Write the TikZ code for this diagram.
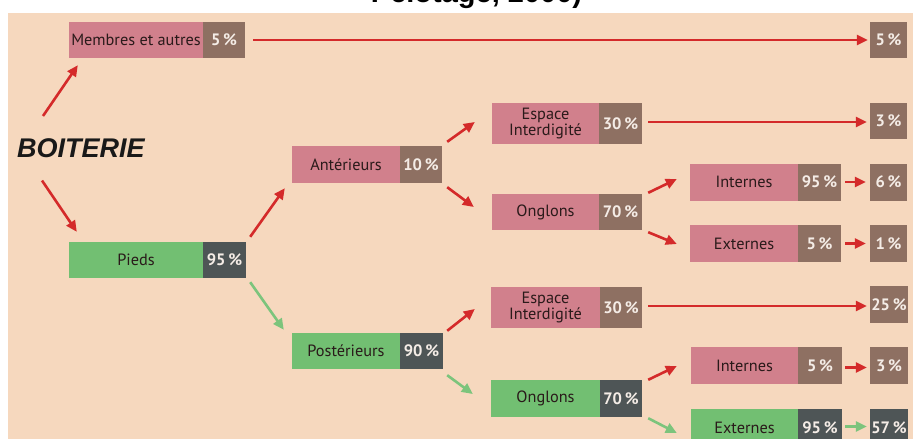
\documentclass[tikz,border=0pt]{standalone}
\usepackage{fontspec}
\setmainfont{PT Sans}
\newfontfamily\titlefont{Liberation Sans}
\usetikzlibrary{arrows.meta,calc}
\definecolor{cbg}{HTML}{F6D8BE}
\definecolor{cpink}{HTML}{D1808C}
\definecolor{cbrown}{HTML}{8E7062}
\definecolor{cgreen}{HTML}{72BF72}
\definecolor{cdark}{HTML}{4E5556}
\definecolor{cred}{HTML}{D42A2A}
\definecolor{cgarr}{HTML}{7CC47C}
\definecolor{clabel}{HTML}{2A1A1A}
\definecolor{cpct}{HTML}{F4ECE6}
\tikzset{
  cell/.style={inner sep=0pt, minimum height=37pt, align=center, font=\fontsize{16.3}{14.5}\selectfont},
  plab/.style={cell, fill=cpink, text=clabel, minimum width=108pt},
  glab/.style={cell, fill=cgreen, text=clabel, minimum width=108pt},
  pc/.style={cell, font=\bfseries\fontsize{16.5}{16}\selectfont, text=cpct},
  ppct/.style={pc, fill=cbrown, minimum width=42pt},
  gpct/.style={pc, fill=cdark, minimum width=42pt},
  fpct/.style={pc, fill=cbrown, minimum width=38pt},
  fdpct/.style={pc, fill=cdark, minimum width=38pt},
  rarr/.style={draw=cred, line width=2.6pt, -{Triangle[length=11pt,width=10pt]}},
  garr/.style={draw=cgarr, line width=2.6pt, -{Triangle[length=11pt,width=10pt]}}
}
\begin{document}
\begin{tikzpicture}[x=1pt,y=-1pt]
\useasboundingbox (0,0) rectangle (913,439);
\fill[white] (0,0) rectangle (913,439);
\fill[cbg] (8,13) rectangle (913,439);
\node[anchor=base, font=\titlefont\bfseries\fontsize{29}{30}\selectfont, text=black] (title) at (476.5,2.5) {Pelotage, 2000)};

% level 0
\node[anchor=north west, inner sep=0pt, font=\titlefont\bfseries\itshape\fontsize{27}{28}\selectfont, text=black!90] (boit) at (17,138) {BOITERIE};

% level 1
\node[plab, minimum width=134pt, minimum height=36pt] (mem) at (136,40) {Membres et autres};
\node[ppct, minimum height=36pt] (mem5) at (224,40) {5\,\%};
\node[glab, minimum width=134pt, minimum height=36pt] (pieds) at (136,260) {Pieds};
\node[gpct, minimum width=43pt, minimum height=36pt] (pieds95) at (224.5,260) {95\,\%};

% level 2
\node[plab] (ant) at (346,164.5) {Antérieurs};
\node[ppct] (ant10) at (421,164.5) {10\,\%};
\node[glab, minimum height=36pt] (post) at (346,351) {Postérieurs};
\node[gpct, minimum width=43pt, minimum height=36pt] (post90) at (421.5,351) {90\,\%};

% level 3
\node[plab, minimum width=107pt, minimum height=41pt] (esp1) at (545.5,123.5) {Espace\\Interdigité};
\node[ppct, minimum width=43pt, minimum height=41pt] (esp1p) at (620.5,123.5) {30\,\%};
\node[plab, minimum width=107pt, minimum height=36pt] (ong1) at (545.5,212) {Onglons};
\node[ppct, minimum width=43pt, minimum height=36pt] (ong1p) at (620.5,212) {70\,\%};
\node[plab, minimum width=109pt, minimum height=41pt] (esp2) at (545.5,307.5) {Espace\\Interdigité};
\node[ppct, minimum width=42pt, minimum height=41pt] (esp2p) at (621,307.5) {30\,\%};
\node[glab, minimum width=109pt] (ong2) at (545.5,398.5) {Onglons};
\node[gpct, minimum width=42pt] (ong2p) at (621,398.5) {70\,\%};

% level 4
\node[plab] (int1) at (744,182) {Internes};
\node[ppct, minimum width=43pt] (int1p) at (819.5,182) {95\,\%};
\node[plab] (ext1) at (744,243.5) {Externes};
\node[ppct, minimum width=43pt] (ext1p) at (819.5,243.5) {5\,\%};
\node[plab, minimum width=107pt] (int2) at (744.5,365.5) {Internes};
\node[ppct, minimum width=44pt] (int2p) at (820,365.5) {5\,\%};
\node[glab, minimum width=107pt] (ext2) at (744.5,427.5) {Externes};
\node[gpct, minimum width=44pt] (ext2p) at (820,427.5) {95\,\%};

% finals
\node[fpct, minimum width=37pt, minimum height=36pt] (memf) at (888.5,40) {5\,\%};
\node[fpct, minimum width=37pt, minimum height=36pt] (f3a) at (888.5,121) {3\,\%};
\node[fpct, minimum width=37pt] (f6) at (888.5,182) {6\,\%};
\node[fpct, minimum width=37pt] (f1) at (888.5,243.5) {1\,\%};
\node[fpct] (f25) at (889,304.5) {25\,\%};
\node[fpct] (f3b) at (889,365.5) {3\,\%};
\node[fdpct] (f57) at (889,427.5) {57\,\%};

% connectors
\draw[rarr] ($(boit.north west)+(26,-22)$) -- ($(mem.south west)+(9,7)$);
\draw[rarr] ($(boit.south west)+(25,23)$) -- ($(pieds.north west)+(8,-10)$);
\draw[rarr] ($(mem5.east)+(8,0)$) -- ($(memf.west)+(-2,0)$);
\draw[rarr] ($(pieds95.north east)+(4,-5)$) -- ($(ant.south west)+(-7,5)$);
\draw[garr] ($(pieds95.south east)+(4,4)$) -- ($(post.north west)+(-8,-3)$);
\draw[rarr] ($(ant10.north east)+(5,-4)$) -- ($(esp1.west)+(-17,-1.5)$);
\draw[rarr] ($(ant10.south east)+(5,4)$) -- ($(ong1.west)+(-18,-5)$);
\draw[rarr] ($(post90.north east)+(4,-2)$) -- ($(esp2.west)+(-16,1.5)$);
\draw[garr] ($(post90.south east)+(4,6)$) -- ($(ong2.west)+(-18,-4.5)$);
\draw[rarr] ($(esp1p.east)+(6,-1.5)$) -- ($(f3a.west)+(-3,1)$);
\draw[rarr] ($(ong1p.north east)+(6,-1)$) -- ($(int1.west)+(-13,-3)$);
\draw[rarr] ($(ong1p.south east)+(6,2)$) -- ($(ext1.west)+(-13,0.5)$);
\draw[rarr] ($(int1p.east)+(4,0)$) -- ($(f6.west)+(-4,0)$);
\draw[rarr] ($(ext1p.east)+(4,0)$) -- ($(f1.west)+(-4,0)$);
\draw[rarr] ($(esp2p.east)+(6,-1.5)$) -- ($(f25.west)+(-3,1.5)$);
\draw[rarr] ($(ong2p.north east)+(6,0)$) -- ($(int2.west)+(-14,0.5)$);
\draw[garr] ($(ong2p.south east)+(6,1)$) -- ($(ext2.west)+(-14,5.5)$);
\draw[rarr] ($(int2p.east)+(3,2)$) -- ($(f3b.west)+(-3,2)$);
\draw[garr] ($(ext2p.east)+(3,-1)$) -- ($(f57.west)+(-3,-1)$);
\end{tikzpicture}
\end{document}
